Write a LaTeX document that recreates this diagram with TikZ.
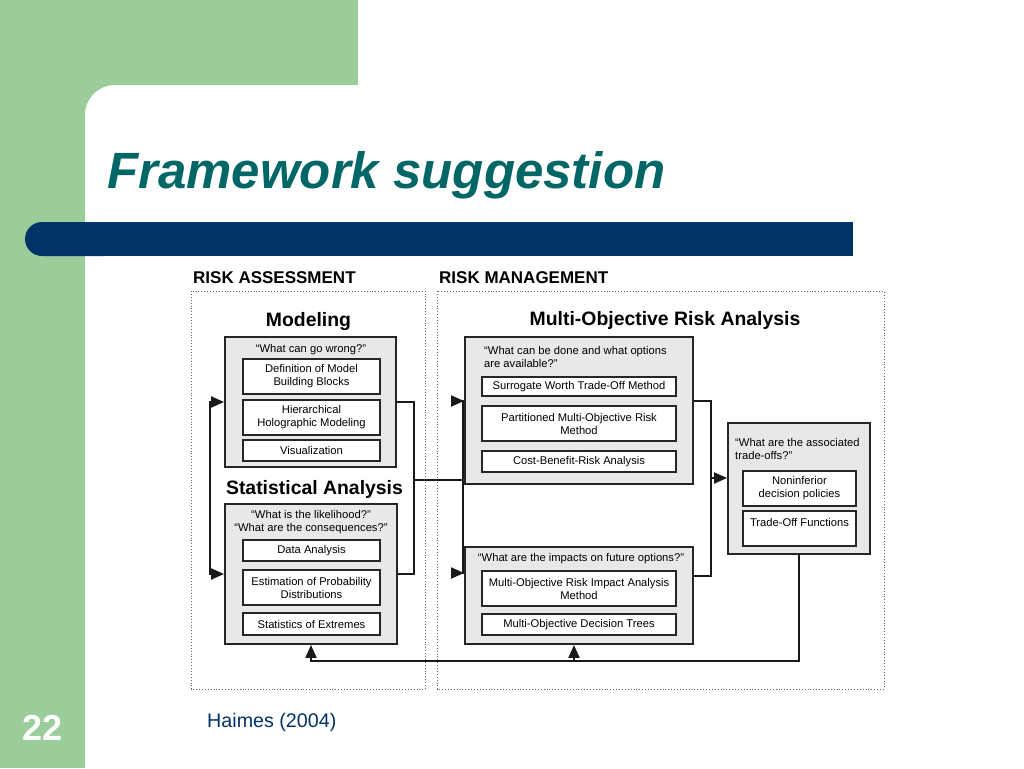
\documentclass[tikz,border=0pt]{standalone}
\usepackage{fontspec}
\setmainfont{Liberation Sans}
\usetikzlibrary{arrows.meta, positioning}
\definecolor{slidegreen}{RGB}{155,205,155}
\definecolor{slideblue}{RGB}{0,51,102}
\definecolor{slideteal}{RGB}{0,102,102}

\begin{document}
\begin{tikzpicture}[x=1pt, y=-1pt,
  panel/.style={draw=black!85, fill=black!9, line width=1.9pt, inner sep=0pt},
  item/.style={draw=black!85, fill=white, line width=1.7pt, align=center, inner sep=0pt, font=\fontsize{11.2}{13}\selectfont},
  quote/.style={inner sep=0pt, font=\fontsize{11.2}{13}\selectfont},
  heading/.style={inner sep=0pt, anchor=base, font=\bfseries\fontsize{19.4}{22}\selectfont},
  zonelabel/.style={inner sep=0pt, anchor=base west, font=\bfseries\fontsize{17}{20}\selectfont},
  zone/.style={draw=black!60, dotted, line width=0.9pt},
  link/.style={draw=black!90, line width=2pt},
  arrow/.style={link, -{Triangle[length=13pt, width=11pt]}}]
\useasboundingbox (0,0) rectangle (1024,768);

% slide background
\fill[slidegreen] (0,0) rectangle (358,85);
\fill[slidegreen] (0,0) rectangle (85,768);
\fill[slidegreen] (85,85) rectangle (120,120);
\fill[white, rounded corners=30pt] (85,85) rectangle (1080,820);
\fill[slideblue, rounded corners=17pt] (25,222) rectangle (120,256);
\fill[slideblue] (70,222) rectangle (853,256);

\node[inner sep=0pt, anchor=base west, text=slideteal, font=\bfseries\itshape\fontsize{51}{60}\selectfont] (title) at (107,188) {Framework suggestion};
\node[inner sep=0pt, anchor=base west, text=white, font=\bfseries\fontsize{36}{40}\selectfont] (pageno) at (22,740) {22};
\node[inner sep=0pt, anchor=base west, text=slideblue, font=\fontsize{19.7}{22}\selectfont] (source) at (207,727) {Haimes (2004)};

% the two zones
\draw[zone] (191,291) rectangle (425,689);
\draw[zone] (437,291) rectangle (884,689);
\node[zonelabel] (assess) at (193,283) {RISK ASSESSMENT};
\node[zonelabel] (manage) at (439,283) {RISK MANAGEMENT};

% risk assessment
\node[heading] (modhead) at (308.5,326) {Modeling};
\node[panel, minimum width=171pt, minimum height=130pt] (model) at (310.5,402) {};
\node[quote, anchor=base] (modq) at (311,352) {“What can go wrong?”};
\node[item, minimum width=137pt, minimum height=35pt] (defn) at (311.5,376.5) {Definition of Model\\Building Blocks};
\node[item, minimum width=137pt, minimum height=35pt] (hhm) at (311.5,417.5) {Hierarchical\\Holographic Modeling};
\node[item, minimum width=137pt, minimum height=21pt] (visual) at (311.5,450.5) {Visualization};

\node[heading] (stathead) at (314.5,494) {Statistical Analysis};
\node[panel, minimum width=172pt, minimum height=140pt] (stat) at (311,574) {};
\node[quote, align=center, anchor=base] (statq) at (311,531) {“What is the likelihood?”\\“What are the consequences?”};
\node[item, minimum width=137pt, minimum height=21pt] (data) at (311.5,550.5) {Data Analysis};
\node[item, minimum width=137pt, minimum height=35pt] (estim) at (311.5,587.5) {Estimation of Probability\\Distributions};
\node[item, minimum width=137pt, minimum height=22pt] (extreme) at (311.5,624) {Statistics of Extremes};

% risk management
\node[heading] (morahead) at (665,325) {Multi-Objective Risk Analysis};
\node[panel, minimum width=228pt, minimum height=147pt] (options) at (579,410.5) {};
\node[quote, align=left, anchor=base west] (optq) at (484,367) {“What can be done and what options\\are available?”};
\node[item, minimum width=194pt, minimum height=19pt] (swt) at (579,386.5) {Surrogate Worth Trade-Off Method};
\node[item, minimum width=194pt, minimum height=35pt] (pmr) at (579,423.5) {Partitioned Multi-Objective Risk\\Method};
\node[item, minimum width=194pt, minimum height=21pt] (cbr) at (579,461.5) {Cost-Benefit-Risk Analysis};

\node[panel, minimum width=228pt, minimum height=97pt] (impacts) at (579,595.5) {};
\node[quote, anchor=base] (impq) at (581,561) {“What are the impacts on future options?”};
\node[item, minimum width=194pt, minimum height=35pt] (mrim) at (579,588.5) {Multi-Objective Risk Impact Analysis\\Method};
\node[item, minimum width=194pt, minimum height=21pt] (mdt) at (579,624.5) {Multi-Objective Decision Trees};

\node[panel, minimum width=142pt, minimum height=131pt] (tradeoffs) at (799,488.5) {};
\node[quote, align=left, anchor=base west] (tradeq) at (735,459) {“What are the associated\\trade-offs?”};
\node[item, minimum width=113pt, minimum height=35pt] (nondp) at (799.5,488.5) {Noninferior\\decision policies};
\node[item, minimum width=113pt, minimum height=35pt] (tof) at (799.5,528.5) {Trade-Off Functions\\\mbox{}};

% connectors
\coordinate (splitL) at (413,480);
\coordinate (splitR) at (463,480);
\coordinate (splitT) at (710,478);
\coordinate (fbjoin) at (574,660);

\draw[link, {Triangle[length=13pt, width=11pt]}-{Triangle[length=13pt, width=11pt]}] (model.west) -- ++(-14,0) |- (stat.west);
\draw[link] (model.east) -- ++(17,0) |- (stat.east);
\draw[link] (splitL) -- (splitR);
\draw[arrow] (splitR) |- ([yshift=9.5pt]options.west);
\draw[arrow] (splitR) |- ([yshift=22.5pt]impacts.west);
\draw[link] ([yshift=10pt]options.east) -- ++(17,0) |- ([yshift=19.5pt]impacts.east);
\draw[arrow] (splitT) -- (splitT -| tradeoffs.west);
\draw[arrow] (tradeoffs.south) -- ++(0,106) -| (stat.south);
\draw[arrow] (fbjoin) -- (fbjoin |- impacts.south);
\end{tikzpicture}
\end{document}
